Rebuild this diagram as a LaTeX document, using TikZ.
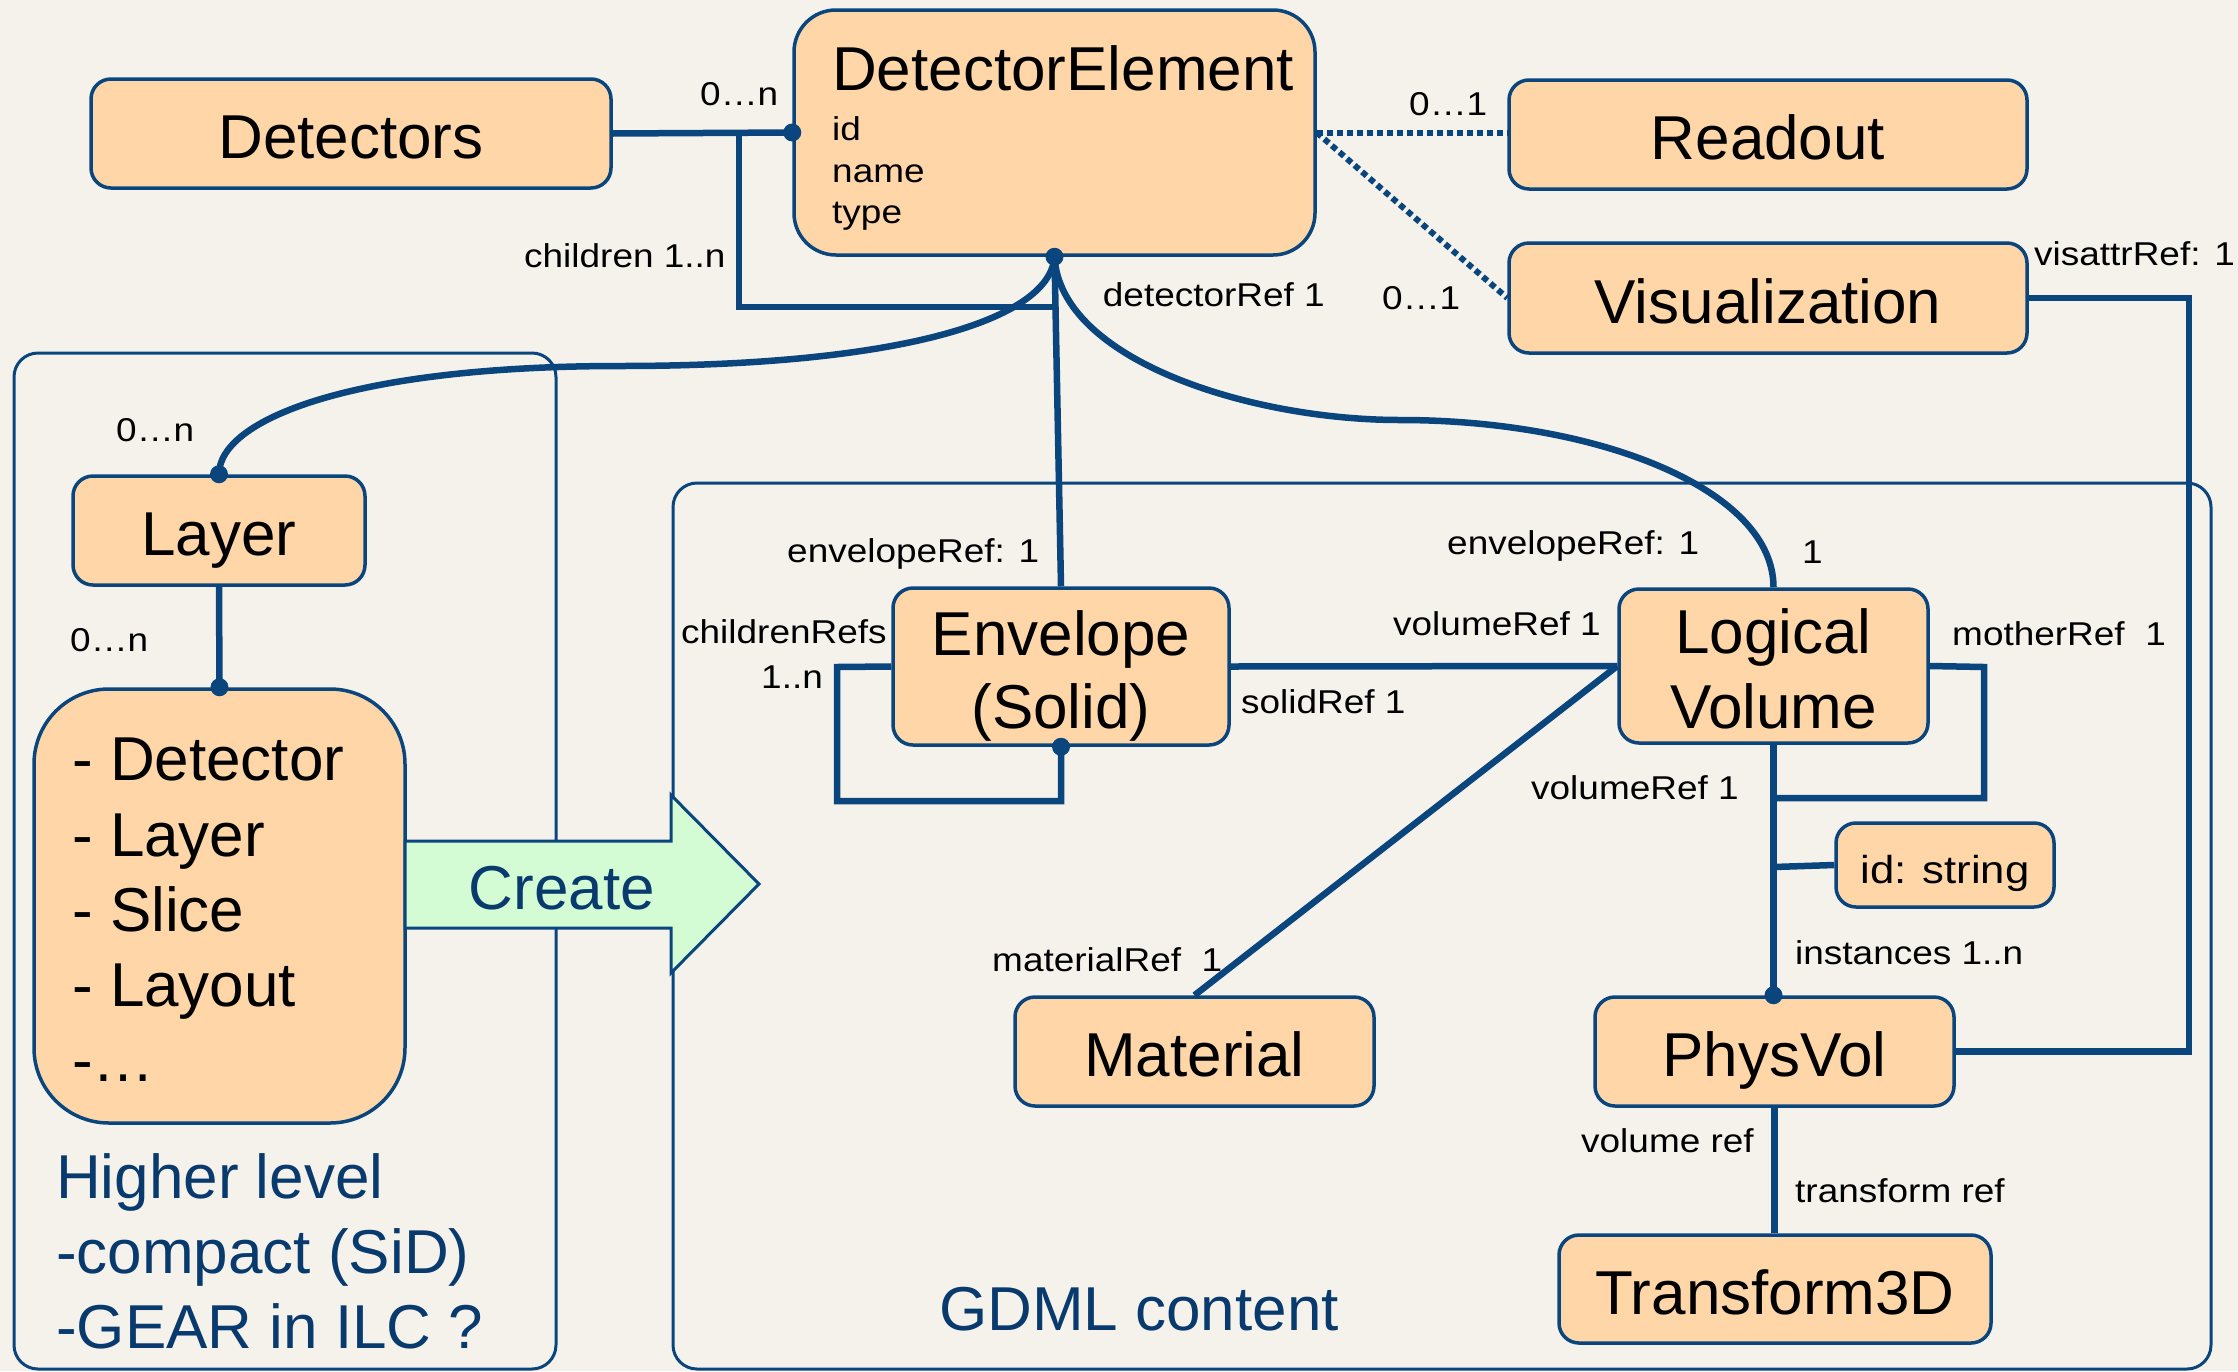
\documentclass[tikz,border=0pt]{standalone}
\usepackage{fontspec}
\setmainfont{Liberation Sans}
\newfontfamily\lblfont[FakeStretch=1.12]{Liberation Sans}
\definecolor{bg}{RGB}{245,242,236}
\definecolor{peach}{RGB}{254,214,168}
\definecolor{bl}{RGB}{10,70,125}
\definecolor{tb}{RGB}{8,58,110}
\definecolor{grn}{RGB}{212,252,212}
\newcommand\bigf{\fontsize{62pt}{70pt}\selectfont}
\newcommand\lblf{\lblfont\fontsize{33pt}{40pt}\selectfont}
\newcommand\midf{\lblfont\fontsize{39pt}{46pt}\selectfont}
\pgfdeclarelayer{back}
\pgfdeclarelayer{links}
\pgfdeclarelayer{front}
\pgfsetlayers{back,links,main,front}
\begin{document}
\begin{tikzpicture}[x=1pt,y=-1pt,
  box/.style={draw=bl, fill=peach, line width=3.5, rounded corners=20, inner sep=0, text height=50, text depth=0, font=\bigf},
  conn/.style={draw=bl, line width=6.5},
  dotline/.style={draw=bl, line width=6, dash pattern=on 6pt off 4pt},
  panel/.style={draw=bl, line width=3, rounded corners=24},
  lbl/.style={font=\lblf, inner sep=0, anchor=base west},
  big/.style={font=\bigf, inner sep=0, anchor=base west},
  bigc/.style={font=\bigf, inner sep=0, anchor=base},
  enddot/.style={fill=bl}]
\useasboundingbox (0,0) rectangle (2238,1371);
\begin{pgfonlayer}{back}
\fill[bg] (0,0) rectangle (2238,1371);
\draw[panel] (14,353) rectangle (556,1369);
\draw[panel] (673,483) rectangle (2211,1369);
\end{pgfonlayer}
% boxes
\node[box, minimum width=520, minimum height=109] (det) at (351,133.5) {Detectors};
\node[box, rounded corners=42, minimum width=521, minimum height=245] (de) at (1054.5,132.5) {};
\node[box, minimum width=518, minimum height=109] (readout) at (1768,134.5) {Readout};
\node[box, minimum width=518, minimum height=110] (vis) at (1768,298) {Visualization};
\node[box, minimum width=292, minimum height=109] (layer) at (219,530.5) {Layer};
\node[box, rounded corners=75, minimum width=371, minimum height=434] (list) at (219.5,906) {};
\node[box, minimum width=336, minimum height=157] (env) at (1061,666.5) {};
\node[box, minimum width=309, minimum height=154] (logvol) at (1773.5,666) {};
\node[box, font=\midf, text height=36, minimum width=218, minimum height=84] (idstr) at (1945,865) {id: string};
\node[box, minimum width=359, minimum height=109] (mat) at (1194.5,1051.5) {Material};
\node[box, minimum width=359, minimum height=109] (phys) at (1774.5,1051.5) {PhysVol};
\node[box, minimum width=432, minimum height=108] (tr) at (1775,1289) {Transform3D};
% texts inside multi-line boxes
\node[big] (detitle) at (832,90) {DetectorElement};
\node[lbl] (deid) at (832,140) {id};
\node[lbl] (dename) at (832,182) {name};
\node[lbl] (detype) at (832,223) {type};
\node[bigc] (envt1) at (1061,655) {Envelope};
\node[bigc] (envt2) at (1061,728) {(Solid)};
\node[bigc] (lvt1) at (1773.5,653) {Logical};
\node[bigc] (lvt2) at (1773.5,728) {Volume};
\node[big] (li1) at (72,780) {- Detector};
\node[big] (li2) at (72,856) {- Layer};
\node[big] (li3) at (72,931) {- Slice};
\node[big] (li4) at (72,1006) {- Layout};
\node[big] (li5) at (72,1081) {-…};
% create arrow
\draw[bl, fill=grn, line width=3] (405,841) -- (671,841) -- (671,795) -- (759,884) -- (671,973) -- (671,928) -- (405,928) -- cycle;
\node[bigc, text=tb] (create) at (562,909) {Create};
% blue texts
\node[big, text=tb] (hl1) at (56,1198) {Higher level};
\node[big, text=tb] (hl2) at (56,1273) {-compact (SiD)};
\node[big, text=tb] (hl3) at (56,1348) {-GEAR in ILC ?};
\node[big, text=tb] (gdml) at (939,1330) {GDML content};
% helper coordinates
\coordinate (cj) at (739,133);
\coordinate (va) at (2189,298);
\coordinate (ml) at (1984,667);
\coordinate (el) at (837,667);
\coordinate (ib) at (1774,867);
% connectors
\begin{pgfonlayer}{links}
\draw[conn] (det.east) -- (de.west);
\draw[conn] (cj) -- (739,307) -- (1056,307);
\draw[conn] (de.south) .. controls (1050,320) and (900,366) .. (620,366) .. controls (350,366) and (219,420) .. (layer.north);
\draw[conn] (layer.south) -- (list.north);
\draw[conn] (de.south) -- (env.north);
\draw[conn] (de.south) .. controls (1060,360) and (1250,420) .. (1400,420) .. controls (1600,420) and (1773.5,490) .. (logvol.north);
\draw[dotline] (de.east) -- (readout.west |- de.east);
\draw[dotline] (de.east) -- (vis.west);
\draw[conn] (vis.east) -- (va) -- (va |- phys.east) -- (phys.east);
\draw[conn] (env.west) -- (el) -- (837,801) -- (1061,801) -- (env.south);
\draw[conn] (env.east) -- (logvol.west);
\draw[conn] (logvol.west) -- (mat.north);
\draw[conn] (logvol.south) -- (logvol.south |- phys.north);
\draw[conn] (logvol.east) -- (ml) -- (1984,798) -- (1773.5,798);
\draw[conn] (ib) -- (idstr.west);
\draw[conn] (phys.south) -- (phys.south |- tr.north);
\end{pgfonlayer}
\begin{pgfonlayer}{front}
\fill[enddot] (de.west) circle (9);
\fill[enddot] (de.south) circle (9);
\fill[enddot] (layer.north) circle (9);
\fill[enddot] (list.north) circle (9);
\fill[enddot] (env.south) circle (9);
\fill[enddot] (logvol.south |- phys.north) circle (9);
\end{pgfonlayer}
% labels
\node[lbl] (l1) at (700,105) {0…n};
\node[lbl] (l2) at (524,267) {children 1..n};
\node[lbl] (l3) at (116,441) {0…n};
\node[lbl] (l4) at (70,651) {0…n};
\node[lbl] (l5) at (787,562) {envelopeRef: 1};
\node[lbl] (l6) at (681,643) {childrenRefs};
\node[lbl] (l7) at (761,688) {1..n};
\node[lbl, anchor=base east] (l8) at (1325,306) {detectorRef 1};
\node[lbl] (l9) at (1409,115) {0…1};
\node[lbl] (l10) at (1382,309) {0…1};
\node[lbl] (l11) at (2034,265) {visattrRef: 1};
\node[lbl] (l12) at (1447,554) {envelopeRef: 1};
\node[lbl] (l13) at (1802,563) {1};
\node[lbl] (l14) at (1393,635) {volumeRef 1};
\node[lbl] (l15) at (1952,645) {motherRef\ \ 1};
\node[lbl] (l16) at (1241,713) {solidRef 1};
\node[lbl] (l17) at (1531,799) {volumeRef 1};
\node[lbl] (l18) at (992,971) {materialRef\ \ 1};
\node[lbl] (l19) at (1795,964) {instances 1..n};
\node[lbl] (l20) at (1581,1152) {volume ref};
\node[lbl] (l21) at (1795,1202) {transform ref};
\end{tikzpicture}
\end{document}
